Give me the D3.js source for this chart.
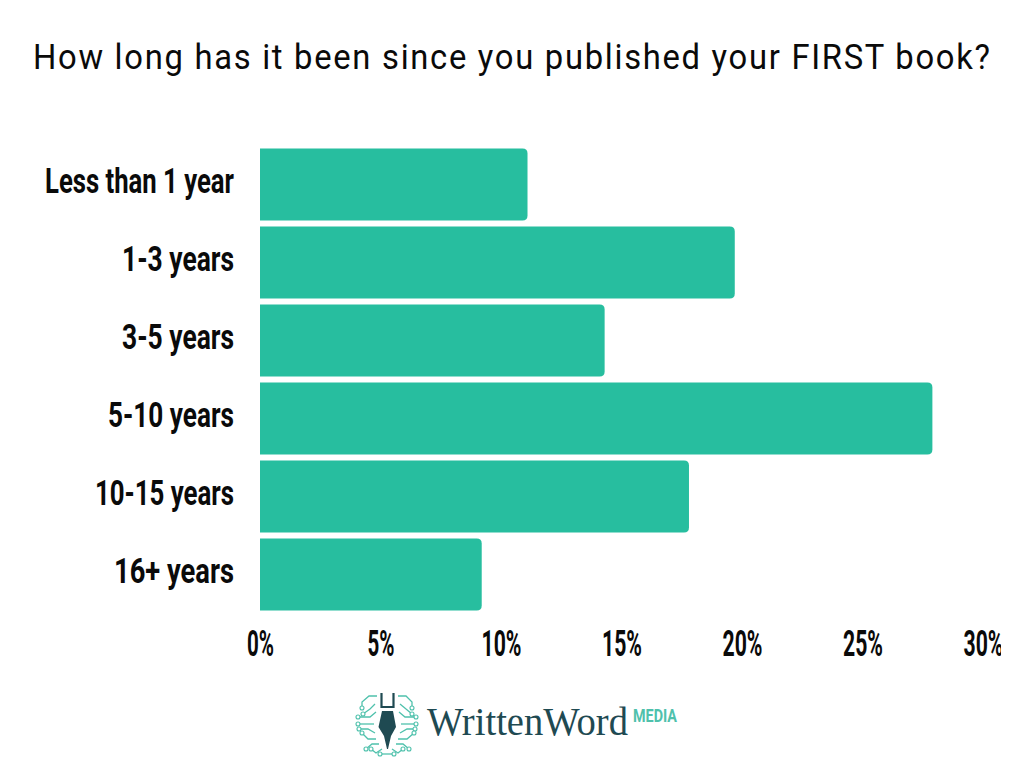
<!DOCTYPE html>
<html><head><meta charset="utf-8">
<script src="https://cdn.jsdelivr.net/npm/d3@7"></script>
<style>html,body{margin:0;padding:0;background:#fff}svg{display:block}</style>
</head><body><div id="chart"></div>
<script>
const titleText = "How long has it been since you published your FIRST book?";
const categories = ["Less than 1 year","1-3 years","3-5 years","5-10 years","10-15 years","16+ years"];
const values = [11.1,19.7,14.3,27.9,17.8,9.2];
const tickValues = [0,5,10,15,20,25,30];
const labelWidths = [189,112,112,126,139,120];

const svg = d3.select("#chart").append("svg").attr("width",1024).attr("height",768);
const x = d3.scaleLinear().domain([0,30]).range([260,983]);
const y = d3.scaleBand().domain(categories).range([145.5,613.5]).paddingInner(0.08).paddingOuter(0.04);

const sx=0.91;
svg.append("text").attr("transform",`translate(33,69) scale(${sx},1)`).attr("textLength",957/sx).attr("lengthAdjust","spacing")
  .attr("font-family","Roboto").attr("font-size",36).attr("fill","#0a0a0a").text(titleText);

const r=5;
svg.append("g").selectAll("path").data(categories).join("path")
  .attr("fill","#27be9f")
  .attr("d",(c,i)=>{const x0=x(0),x1=x(values[i]),t=y(c),b=t+y.bandwidth();
    return `M${x0},${t}H${x1-r}Q${x1},${t} ${x1},${t+r}V${b-r}Q${x1},${b} ${x1-r},${b}H${x0}Z`;});

svg.append("g").selectAll("text").data(categories).join("text")
  .attr("x",(c,i)=>234-labelWidths[i]).attr("y",c=>y(c)+y.bandwidth()/2+8)
  .attr("textLength",(c,i)=>labelWidths[i]).attr("lengthAdjust","spacingAndGlyphs")
  .attr("font-family","Roboto").attr("font-weight",700).attr("font-size",35).attr("fill","#0a0a0a")
  .text(c=>c);

svg.append("clipPath").attr("id","pageclip").append("rect").attr("x",0).attr("y",0).attr("width",1001).attr("height",768);
const axis = d3.axisBottom(x).tickValues(tickValues).tickFormat(d=>d+"%").tickSize(0).tickPadding(0);
const ax = svg.append("g").attr("transform","translate(0,628)").attr("clip-path","url(#pageclip)").call(axis);
ax.select(".domain").remove();
ax.selectAll("text").attr("y",28).attr("dy",null)
  .attr("font-family","Roboto").attr("font-weight",700).attr("font-size",36).attr("fill","#0a0a0a")
  .attr("textLength",d=>d===0?27:(d===5?27:40)).attr("lengthAdjust","spacingAndGlyphs");

// Logo
const logo = svg.append("g");
const dark="#1f4a52", teal="#4fc1ac";
const circuits=[
 "M377,696 L369,696 L362,702 L362,708","M375,704 L370,709 L363,714","M376,712 L370,717 L358,717","M374,724 L358,724",
 "M375,733 L368,729 L359,729","M376,739 L368,739 L362,733","M379,744 L372,744 L366,749","M382,749 L376,753 L371,749",
 "M398,696 L406,696 L412,702 L412,708","M400,704 L406,709 L412,714","M399,712 L405,717 L416,717","M401,724 L416,724",
 "M400,733 L407,729 L415,729","M398,739 L407,739 L414,733","M396,744 L403,744 L409,749","M392,749 L398,753 L403,749","M380,754 L394,754"];
logo.append("g").selectAll("path").data(circuits).join("path").attr("d",d=>d)
  .attr("fill","none").attr("stroke",teal).attr("stroke-width",1.3);
const nodes=[[362,708],[363,714],[358,717],[358,724],[359,729],[362,733],[366,749],[371,749],[412,708],[412,714],[416,717],[416,724],[415,729],[414,733],[409,749],[403,749],[380,754],[394,754]];
logo.append("g").selectAll("circle").data(nodes).join("circle")
  .attr("cx",d=>d[0]).attr("cy",d=>d[1]).attr("r",2).attr("fill","#fff").attr("stroke",teal).attr("stroke-width",1.1);
logo.append("path").attr("d","M381.5,693 V707 H393.5 V693").attr("fill","none").attr("stroke",dark).attr("stroke-width",2.2);
logo.append("path").attr("d","M382,711 H393 L396,727 L391,736 L388,749 H387 L384,736 L378.5,727 Z").attr("fill",dark);
logo.append("text").attr("x",427).attr("y",735).attr("textLength",201).attr("lengthAdjust","spacingAndGlyphs")
  .attr("font-family","Liberation Serif").attr("font-size",39).attr("fill",dark).text("WrittenWord");
logo.append("text").attr("x",633).attr("y",722).attr("textLength",44).attr("lengthAdjust","spacingAndGlyphs")
  .attr("font-family","Roboto").attr("font-weight",700).attr("font-size",19).attr("fill",teal).text("MEDIA");
</script></body></html>
